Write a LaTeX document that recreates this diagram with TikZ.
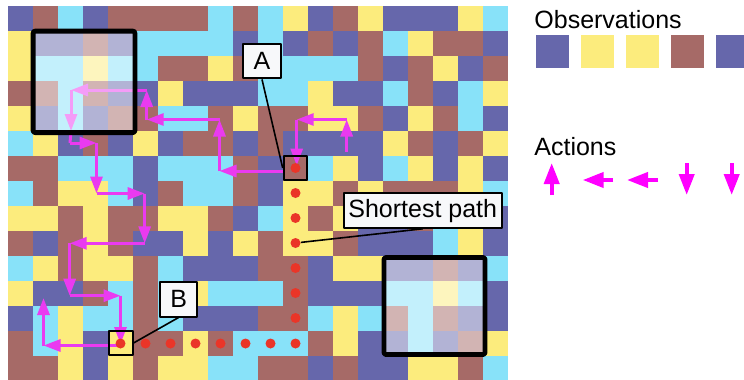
\documentclass[tikz,border=0pt]{standalone}
\usepackage{fontspec}
\setmainfont{Liberation Sans}
\usetikzlibrary{arrows.meta}
\definecolor{cellB}{RGB}{102,103,171}
\definecolor{cellY}{RGB}{252,236,125}
\definecolor{cellR}{RGB}{166,106,103}
\definecolor{cellC}{RGB}{136,226,249}
\definecolor{walkcol}{RGB}{234,58,240}
\definecolor{legcol}{RGB}{255,0,255}
\definecolor{dotcol}{RGB}{234,53,40}
\definecolor{lblfill}{RGB}{247,248,250}
\tikzset{
  walk/.style={color=walkcol,line width=1.5pt},
  reddot/.style={circle,fill=dotcol,inner sep=0pt,minimum size=5pt},
  cellbox/.style={draw=black,line width=1pt,minimum size=11.8pt,inner sep=0pt},
  lbl/.style={draw=black,line width=1pt,fill=lblfill,inner sep=0pt,minimum height=17.2pt,
    font=\fontsize{12.5pt}{15pt}\selectfont},
  viewbox/.style={line width=2.4pt,rounded corners=1pt}
}

\begin{document}
\begin{tikzpicture}[line join=round,>={Triangle[length=8.5pt,width=6pt]},x=0.5pt,y=-0.5pt]
\useasboundingbox (0,0) rectangle (744,380);
\fill[white] (0,0) rectangle (744,380);
% maze cells, one row per line
\foreach \row [count=\r from 0] in {
 {B,R,C,B,R,R,R,R,C,R,C,Y,B,R,Y,B,B,B,Y,C},
 {Y,B,B,R,B,C,C,C,C,B,C,B,R,B,R,C,Y,R,R,B},
 {Y,C,C,Y,C,C,R,R,Y,R,C,C,C,C,R,B,R,Y,B,R},
 {R,R,C,R,B,B,Y,B,B,B,C,C,Y,B,B,C,R,B,C,Y},
 {Y,B,C,B,R,R,C,C,R,Y,R,R,Y,Y,R,B,Y,R,C,B},
 {C,Y,B,R,B,Y,B,R,R,B,R,B,B,B,B,Y,R,B,R,Y},
 {R,R,C,C,C,B,C,C,C,R,B,R,C,Y,B,C,Y,B,Y,B},
 {C,R,Y,Y,C,B,R,C,C,R,B,Y,Y,R,Y,R,R,R,Y,C},
 {Y,Y,R,Y,R,R,Y,Y,R,B,C,Y,R,Y,B,B,R,C,Y,B},
 {R,B,R,Y,R,B,B,Y,B,Y,R,Y,Y,R,B,B,B,C,Y,B},
 {C,Y,R,Y,Y,R,C,B,B,B,R,R,B,Y,Y,B,B,R,B,C},
 {Y,B,B,R,C,R,C,Y,C,C,C,R,B,B,B,C,C,Y,C,B},
 {B,C,Y,C,C,R,C,B,B,B,R,R,C,Y,C,R,C,R,B,B},
 {R,C,Y,B,Y,R,R,Y,R,C,C,C,R,Y,B,B,C,B,R,Y},
 {R,R,Y,B,Y,R,Y,Y,C,C,R,R,B,R,B,B,Y,Y,R,C}}
{
 \foreach \c [count=\k from 0] in \row
  \fill[fill=cell\c] ({8+25*\k},{5.5+25*\r}) rectangle +(25.4,25.4);
}
%
% agent walk
\coordinate (a1) at (346.7,151.7);
\coordinate (a2) at (346.7,119.5);
\coordinate (a3) at (296.7,119.5);
\coordinate (a4) at (296.7,165.5);
\coordinate (a5) at (284,171);
\coordinate (a6) at (219.5,171);
\coordinate (a7) at (219.5,119.5);
\coordinate (a8) at (146.7,119.5);
\coordinate (a9) at (146.7,90);
\coordinate (a10) at (71,90);
\coordinate (a11) at (71,131);
\coordinate (a12) at (70,143);
\coordinate (a13) at (96.5,143);
\coordinate (a14) at (96.5,193.5);
\coordinate (a15) at (144.7,193.5);
\coordinate (a16) at (144.7,243.3);
\coordinate (a17) at (69.7,243.3);
\coordinate (a18) at (69.7,295.7);
\coordinate (a19) at (120.5,295.7);
\coordinate (a20) at (120.5,344);
\coordinate (a21) at (118,345.5);
\coordinate (a22) at (43.5,345.5);
\coordinate (a23) at (43.5,298);
\foreach \s/\e in {a1/a2,a2/a3,a3/a4,a5/a6,a6/a7,a7/a8,a8/a9,a9/a10,a10/a11,
  a12/a13,a13/a14,a14/a15,a15/a16,a16/a17,a17/a18,a18/a19,a19/a20,a21/a22,a22/a23}
  \draw[walk,->] (\s) -- (\e);
\draw[walk] (a11) -- (a12);
%
% shortest path
\foreach \k in {4,...,11} \node[reddot] (h\k) at ({20.5+25*\k},343.5) {};
\foreach \r in {6,...,12} \node[reddot] (v\r) at (295.5,{18+25*\r}) {};
\node[cellbox] (boxA) at (295.5,168) {};
\node[cellbox] (boxB) at (120.7,343) {};
%
% agent views
\fill[white,opacity=0.5] (33,30.5) rectangle (134.5,132);
\draw[viewbox] (33.1,31.1) rectangle (134.9,132.6);
\fill[white,opacity=0.5] (383,255.5) rectangle (485,355);
\draw[viewbox] (384,257.5) rectangle (485,354.5);
%
\node[lbl,minimum width=18.8pt] (lblA) at (262,61.2) {A};
\node[lbl,minimum width=18.8pt] (lblB) at (178.6,299.3) {B};
\node[lbl,minimum width=79pt] (lblSP) at (422.7,210.6) {Shortest path};
\draw[line width=0.8pt] (lblA.south) -- (boxA.west);
\draw[line width=0.8pt] (lblB.south) -- (boxB.east);
\draw[line width=0.8pt] (lblSP.south) -- (v9);
%
% legend
\node[anchor=base west,inner sep=0pt,font=\fontsize{12.5pt}{15pt}\selectfont] (obsTitle) at (534,28.3) {Observations};
\foreach \c [count=\k from 0] in {B,Y,Y,R,B}
  \fill[fill=cell\c] ({536+45*\k},35) rectangle +(33,33);
\node[anchor=base west,inner sep=0pt,font=\fontsize{12.5pt}{15pt}\selectfont] (actTitle) at (534,155) {Actions};
\begin{scope}[color=legcol,line width=2pt,>={Triangle[length=10.5pt,width=7.5pt]}]
\draw[->] (551.7,195) -- (551.7,163);
\draw[->] (613,180) -- (582.7,180);
\draw[->] (658,180) -- (627,180);
\draw[->] (686.7,163) -- (686.7,195);
\draw[->] (731.7,163) -- (731.7,195);
\end{scope}
\end{tikzpicture}
\end{document}
